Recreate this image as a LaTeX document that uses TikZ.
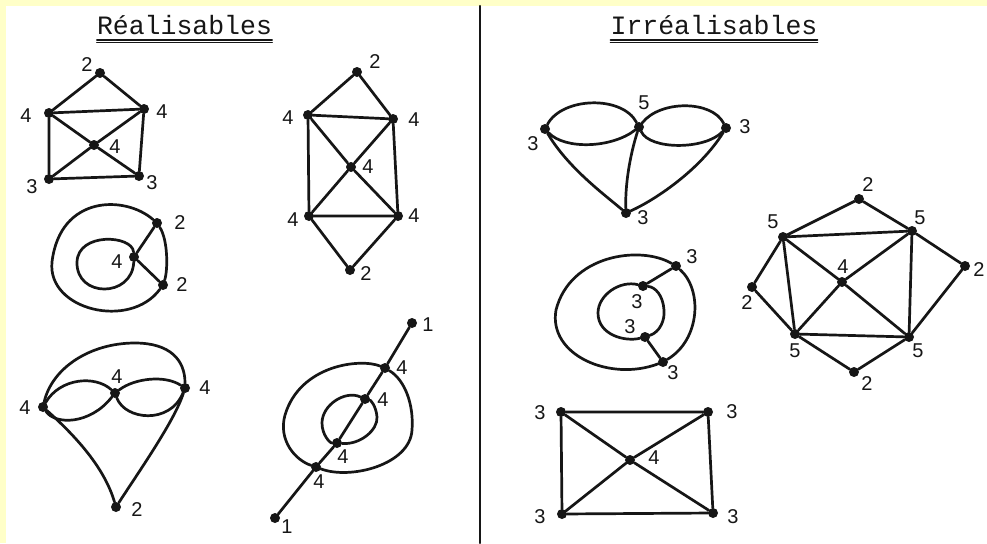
\documentclass[tikz,border=0pt]{standalone}
\usepackage{fontspec}
\setmainfont{Liberation Sans}
\newfontfamily\hdrfont{Liberation Mono}
\definecolor{bandyellow}{HTML}{FFFFC8}
\definecolor{ink}{HTML}{161616}
\begin{document}
\begin{tikzpicture}[x=1pt,y=-1pt,line cap=round,line join=round,
  v/.style={circle,fill=ink,draw=none,inner sep=0pt,minimum size=10pt},
  lab/.style={font=\fontsize{20}{20}\selectfont,text=ink,inner sep=0pt},
  hdr/.style={font=\hdrfont\fontsize{26.5}{28}\selectfont,text=ink,anchor=base,inner sep=0pt},
  edge/.style={draw=ink,line width=2.7pt},
  rule/.style={draw=ink,line width=2.2pt}]
\fill[white] (0,0) rectangle (987,543);
\useasboundingbox (0,0) rectangle (987,543);
\fill[bandyellow] (0,0) rectangle (987,6);
\fill[bandyellow] (0,0) rectangle (6,543);
% divider
\coordinate (divtop) at (480,6);
\coordinate (divbot) at (480,543);
\draw[rule] (divtop) -- (divbot);
% headers
\node[hdr] (hL) at (184.5,35) {Réalisables};
\node[hdr] (hR) at (714,35) {Irréalisables};
\draw[rule,line width=1.4pt] ([yshift=-5pt]hL.base west) -- ([yshift=-5pt]hL.base east);
\draw[rule,line width=1.4pt] ([yshift=-7.5pt]hL.base west) -- ([yshift=-7.5pt]hL.base east);
\draw[rule,line width=1.4pt] ([yshift=-5pt]hR.base west) -- ([yshift=-5pt]hR.base east);
\draw[rule,line width=1.4pt] ([yshift=-7.5pt]hR.base west) -- ([yshift=-7.5pt]hR.base east);

% ---------- G1 ----------
\node[v] (a2) at (100,73) {};
\node[v] (a4l) at (49,113) {};
\node[v] (a4r) at (144,109) {};
\node[v] (a4c) at (94,145) {};
\node[v] (a3l) at (49,179) {};
\node[v] (a3r) at (139,176) {};
\draw[edge] (a2)--(a4l) (a2)--(a4r) (a4l)--(a4r) (a4l)--(a3l) (a4r)--(a3r) (a3l)--(a3r)
  (a4l)--(a4c) (a4c)--(a3r) (a4r)--(a4c) (a4c)--(a3l);
\node[lab] (la2) at (87,65) {2};
\node[lab] (la4l) at (26,116) {4};
\node[lab] (la4r) at (162,112) {4};
\node[lab] (la4c) at (115,147) {4};
\node[lab] (la3l) at (32,187) {3};
\node[lab] (la3r) at (152,183) {3};

% ---------- G2 ----------
\node[v] (b2t) at (357,72) {};
\node[v] (b4ul) at (308,115) {};
\node[v] (b4ur) at (393,119) {};
\node[v] (b4c) at (351,167) {};
\node[v] (b4ll) at (309,216) {};
\node[v] (b4lr) at (398,216) {};
\node[v] (b2b) at (350,270) {};
\draw[edge] (b2t)--(b4ul) (b2t)--(b4ur) (b4ul)--(b4ur) (b4ul)--(b4ll) (b4ur)--(b4lr) (b4ll)--(b4lr)
  (b4ul)--(b4c) (b4c)--(b4lr) (b4ur)--(b4c) (b4c)--(b4ll) (b4ll)--(b2b) (b4lr)--(b2b);
\node[lab] (lb2t) at (375,62) {2};
\node[lab] (lb4ul) at (288,118) {4};
\node[lab] (lb4ur) at (414,120) {4};
\node[lab] (lb4c) at (368,167) {4};
\node[lab] (lb4ll) at (293,220) {4};
\node[lab] (lb4lr) at (414,216) {4};
\node[lab] (lb2b) at (366,274) {2};

% ---------- G3 ----------
\node[v] (c2t) at (157,223) {};
\node[v] (c2b) at (163,285) {};
\node[v] (c4) at (134,257) {};
\draw[edge] (c2t) .. controls (125,195) and (60,195) .. (52,262) .. controls (47,310) and (130,330) .. (c2b);
\draw[edge] (c2t) .. controls (168,240) and (168,270) .. (c2b);
\draw[edge] (c4) .. controls (132,235) and (78,232) .. (77,262) .. controls (76,298) and (132,298) .. (c4);
\draw[edge] (c4)--(c2t) (c4)--(c2b);
\node[lab] (lc2t) at (180,223) {2};
\node[lab] (lc2b) at (182,285) {2};
\node[lab] (lc4) at (117,262) {4};

% ---------- G4 ----------
\node[v] (d4l) at (43,407) {};
\node[v] (d4m) at (115,393) {};
\node[v] (d4r) at (185,388) {};
\node[v] (d2) at (116,507) {};
\draw[edge] (d4l) .. controls (52,368) and (90,343) .. (135,343) .. controls (170,343) and (185,360) .. (d4r);
\draw[edge] (d4l) .. controls (60,378) and (95,375) .. (d4m);
\draw[edge] (d4l) .. controls (55,425) and (90,425) .. (d4m);
\draw[edge] (d4m) .. controls (135,378) and (165,375) .. (d4r);
\draw[edge] (d4m) .. controls (125,420) and (170,425) .. (d4r);
\draw[edge] (d4l) .. controls (80,440) and (105,470) .. (d2);
\draw[edge] (d4r) .. controls (175,420) and (140,470) .. (d2);
\node[lab] (ld4l) at (25,408) {4};
\node[lab] (ld4m) at (117,377) {4};
\node[lab] (ld4r) at (205,388) {4};
\node[lab] (ld2) at (137,510) {2};

% ---------- G5 ----------
\node[v] (e1t) at (412,323) {};
\node[v] (e4a) at (385,368) {};
\node[v] (e4b) at (365,399) {};
\node[v] (e4c) at (337,443) {};
\node[v] (e4d) at (316,467) {};
\node[v] (e1b) at (275,518) {};
\draw[edge] (e1t)--(e4a)--(e4b)--(e4c)--(e4d)--(e1b);
\draw[edge] (e4a) .. controls (405,380) and (414,405) .. (412,430) .. controls (410,465) and (350,480) .. (e4d);
\draw[edge] (e4a) .. controls (360,358) and (300,365) .. (285,415) .. controls (278,440) and (295,460) .. (e4d);
\draw[edge] (e4b) .. controls (345,390) and (322,405) .. (322,423) .. controls (322,435) and (330,443) .. (e4c);
\draw[edge] (e4c) .. controls (360,445) and (378,430) .. (377,417) .. controls (376,405) and (370,400) .. (e4b);
\node[lab] (le1t) at (428,325) {1};
\node[lab] (le4a) at (402,368) {4};
\node[lab] (le4b) at (383,400) {4};
\node[lab] (le4c) at (343,457) {4};
\node[lab] (le4d) at (319,482) {4};
\node[lab] (le1b) at (287,527) {1};

% ---------- G6 ----------
\node[v] (f3l) at (545,129) {};
\node[v] (f5) at (639,127) {};
\node[v] (f3r) at (726,128) {};
\node[v] (f3b) at (626,213) {};
\draw[edge] (f3l) .. controls (562,97) and (622,95) .. (f5);
\draw[edge] (f3l) .. controls (565,150) and (612,148) .. (f5);
\draw[edge] (f5) .. controls (660,100) and (712,100) .. (f3r);
\draw[edge] (f5) .. controls (650,150) and (705,150) .. (f3r);
\draw[edge] (f3l) .. controls (568,168) and (605,195) .. (f3b);
\draw[edge] (f5) .. controls (630,155) and (625,185) .. (f3b);
\draw[edge] (f3r) .. controls (700,170) and (655,200) .. (f3b);
\node[lab] (lf3l) at (533,144) {3};
\node[lab] (lf5) at (644,103) {5};
\node[lab] (lf3r) at (745,127) {3};
\node[lab] (lf3b) at (643,218) {3};

% ---------- G7 ----------
\node[v] (g3ot) at (676,266) {};
\node[v] (g3iu) at (643,286) {};
\node[v] (g3il) at (645,337) {};
\node[v] (g3ob) at (663,362) {};
\draw[edge] (g3ot) .. controls (640,245) and (570,255) .. (556,310) .. controls (548,355) and (610,382) .. (g3ob);
\draw[edge] (g3ot) .. controls (703,290) and (700,340) .. (g3ob);
\draw[edge] (g3iu) .. controls (620,280) and (598,295) .. (598,313) .. controls (598,335) and (625,342) .. (g3il);
\draw[edge] (g3il) .. controls (660,332) and (665,320) .. (664,310) .. controls (663,295) and (655,287) .. (g3iu);
\draw[edge] (g3iu)--(g3ot) (g3il)--(g3ob);
\node[lab] (lg3ot) at (692,257) {3};
\node[lab] (lg3iu) at (637,302) {3};
\node[lab] (lg3il) at (630,327) {3};
\node[lab] (lg3ob) at (673,373) {3};

% ---------- G8 ----------
\node[v] (h2t) at (859,199) {};
\node[v] (h5ul) at (783,237) {};
\node[v] (h5ur) at (912,231) {};
\node[v] (h2r) at (965,266) {};
\node[v] (h4) at (842,282) {};
\node[v] (h2l) at (752,287) {};
\node[v] (h5ll) at (795,334) {};
\node[v] (h5lr) at (909,337) {};
\node[v] (h2b) at (854,372) {};
\draw[edge] (h2t)--(h5ul) (h2t)--(h5ur) (h5ul)--(h5ur) (h5ul)--(h5ll) (h5ur)--(h5lr) (h5ll)--(h5lr)
  (h5ul)--(h4) (h4)--(h5lr) (h5ur)--(h4) (h4)--(h5ll)
  (h5ul)--(h2l) (h2l)--(h5ll) (h5ur)--(h2r) (h2r)--(h5lr) (h5ll)--(h2b) (h5lr)--(h2b);
\node[lab] (lh2t) at (868,185) {2};
\node[lab] (lh5ul) at (773,222) {5};
\node[lab] (lh5ur) at (920,218) {5};
\node[lab] (lh2r) at (979,270) {2};
\node[lab] (lh4) at (843,267) {4};
\node[lab] (lh2l) at (747,303) {2};
\node[lab] (lh5ll) at (795,351) {5};
\node[lab] (lh5lr) at (918,351) {5};
\node[lab] (lh2b) at (867,384) {2};

% ---------- G9 ----------
\node[v] (k3ul) at (561,412) {};
\node[v] (k3ur) at (708,412) {};
\node[v] (k4) at (630,460) {};
\node[v] (k3ll) at (562,514) {};
\node[v] (k3lr) at (713,513) {};
\draw[edge] (k3ul)--(k3ur) (k3ur)--(k3lr) (k3lr)--(k3ll) (k3ll)--(k3ul)
  (k3ul)--(k4) (k4)--(k3lr) (k3ur)--(k4) (k4)--(k3ll);
\node[lab] (lk3ul) at (540,413) {3};
\node[lab] (lk3ur) at (732,412) {3};
\node[lab] (lk4) at (654,458) {4};
\node[lab] (lk3ll) at (540,517) {3};
\node[lab] (lk3lr) at (733,517) {3};
\end{tikzpicture}
\end{document}
